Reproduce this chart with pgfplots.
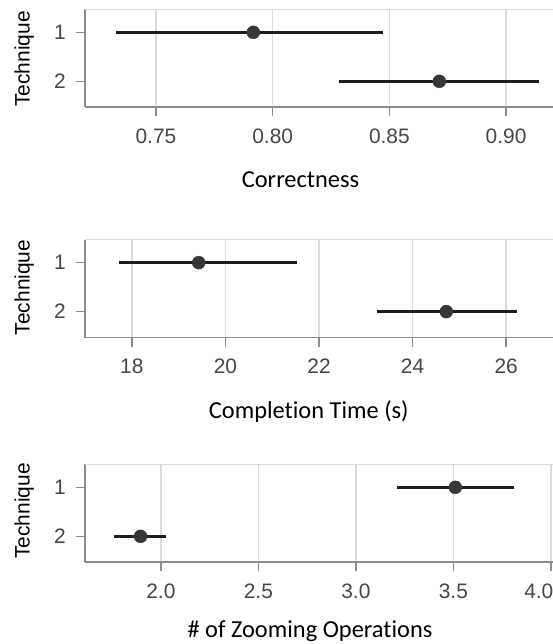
\documentclass[border=0pt]{standalone}
\usepackage{fontspec}
\setmainfont{Liberation Sans}
\newfontfamily\calibri[Ligatures=NoCommon]{Carlito}
\usepackage{pgfplots}
\pgfplotsset{compat=1.18}
\definecolor{framegray}{RGB}{140,140,140}
\definecolor{gridgray}{RGB}{220,220,220}
\definecolor{ticktext}{RGB}{70,70,70}
\definecolor{barcol}{RGB}{30,30,30}
\definecolor{dotcol}{RGB}{55,55,55}

\pgfplotsset{
  forest/.style={
    anchor=south west, scale only axis, width=468bp, height=98bp,
    ymin=0.53, ymax=2.53, y dir=reverse, ytick={1,2}, yticklabels={1,2},
    axis x line*=bottom, axis y line*=left,
    axis line style={framegray, line width=1.8bp, -},
    tick style={framegray, line width=1.6bp},
    tick align=outside, major tick length=9bp,
    xmajorgrids, grid style={gridgray, line width=1.5bp},
    ticklabel style={font=\fontsize{21}{21}\selectfont, text=ticktext},
    xticklabel style={anchor=center, yshift=-20bp},
    yticklabel style={anchor=center, xshift=-16bp},
    clip=false,
  },
  ci/.style={only marks, mark=*, mark size=6.5bp,
    mark options={fill=dotcol, draw=dotcol},
    error bars/.cd, x dir=both, x explicit, error mark=none,
    error bar style={barcol, line width=2.8bp}},
}

\pgfplotstableread{
t m ep em
1 0.7917 0.0555 0.0589
2 0.8714 0.0426 0.0431
}\corr
\pgfplotstableread{
t m ep em
1 19.43 2.11 1.71
2 24.72 1.50 1.49
}\ctime
\pgfplotstableread{
t m ep em
1 3.51 0.30 0.299
2 1.896 0.131 0.138
}\zoomops

\begin{document}
\begin{tikzpicture}
\useasboundingbox (0,0) rectangle (553bp,644bp);
\clip (0,0) rectangle (553bp,644bp);

% Panel 1
\begin{axis}[forest, at={(85bp,536.7bp)},
  xmin=0.7196, xmax=0.9201,
  xtick={0.75,0.80,0.85,0.90}, xticklabels={0.75,0.80,0.85,0.90}]
  \draw[gridgray, line width=1.5bp] (axis description cs:0,1) -- (axis description cs:1,1);
  \addplot[ci] table[x=m, y=t, x error plus=ep, x error minus=em] {\corr};
\end{axis}

% Panel 2
\begin{axis}[forest, at={(85bp,306.4bp)},
  xmin=17, xmax=27,
  xtick={18,20,22,24,26}, xticklabels={18,20,22,24,26}]
  \draw[gridgray, line width=1.5bp] (axis description cs:0,1) -- (axis description cs:1,1);
  \addplot[ci] table[x=m, y=t, x error plus=ep, x error minus=em] {\ctime};
\end{axis}

% Panel 3
\begin{axis}[forest, at={(85bp,81.7bp)},
  xmin=1.611, xmax=4.011,
  xtick={2.0,2.5,3.0,3.5,4.0}, xticklabels={2.0,2.5,3.0,3.5,\makebox[5bp][r]{4.0}}]
  \draw[gridgray, line width=1.5bp] (axis description cs:0,1) -- (axis description cs:1,1);
  \addplot[ci] table[x=m, y=t, x error plus=ep, x error minus=em] {\zoomops};
\end{axis}

% axis titles
\node[anchor=base, font=\calibri\fontsize{24.5}{24.5}\selectfont] at (300.5bp,456.7bp) {Correctness};
\node[anchor=base, font=\calibri\fontsize{24.5}{24.5}\selectfont] at (308.8bp,225.7bp) {Completion Time (s)};
\node[anchor=base, font=\calibri\fontsize{24.5}{24.5}\selectfont] at (310bp,6.7bp) {\# of Zooming Operations};

\node[rotate=90, font=\fontsize{21}{21}\selectfont] at (24.2bp,585bp) {Technique};
\node[rotate=90, font=\fontsize{21}{21}\selectfont] at (24.2bp,356.5bp) {Technique};
\node[rotate=90, font=\fontsize{21}{21}\selectfont] at (24.2bp,133bp) {Technique};
\end{tikzpicture}
\end{document}
